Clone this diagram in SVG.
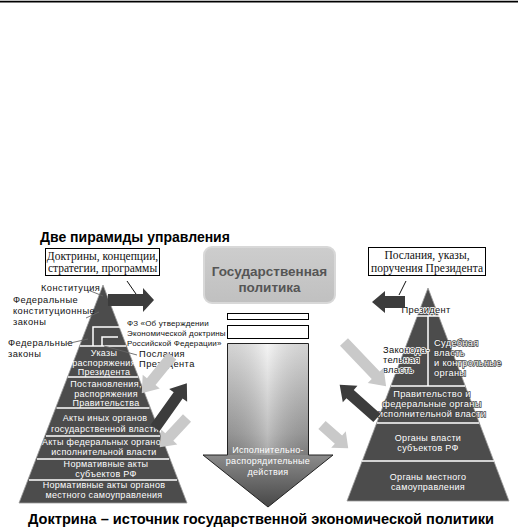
<svg xmlns="http://www.w3.org/2000/svg" width="518" height="528" viewBox="0 0 518 528">
<defs>
<style>
.t{font-family:"Liberation Sans",Arial,sans-serif;font-size:9.3px;letter-spacing:0.45px;fill:#111}
.f{font-family:"Liberation Sans",Arial,sans-serif;font-size:8px;letter-spacing:0.15px;fill:#111}
.w{font-family:"Liberation Sans",Arial,sans-serif;font-size:9px;letter-spacing:0.3px;fill:#fff;text-anchor:middle}
.h{font-family:"Liberation Sans",Arial,sans-serif;font-size:9.3px;letter-spacing:0.3px;fill:#111;stroke:#fff;stroke-width:1.6px;paint-order:stroke}
.hw{font-family:"Liberation Sans",Arial,sans-serif;font-size:9.3px;letter-spacing:0.3px;fill:#fff;stroke:#444;stroke-width:1.4px;paint-order:stroke}
.bx{font-family:"Liberation Serif","Times New Roman",serif;font-size:11.5px;fill:#111;text-anchor:middle}
.ttl{font-family:"Liberation Sans",Arial,sans-serif;font-weight:bold;font-size:14px;fill:#000}
.pyr{fill:#4c4c4c;stroke:#9a9a9a;stroke-width:0.8}
.sep{stroke:#fff;stroke-width:1.5;fill:none}
.ptr{stroke:#666;stroke-width:0.9;fill:none}
.la{fill:#c9c9c9}
.da{fill:#3c3c3c}
</style>
<linearGradient id="gArrow" x1="0" y1="343" x2="0" y2="507" gradientUnits="userSpaceOnUse">
<stop offset="0" stop-color="#f2f2f2"/>
<stop offset="0.55" stop-color="#a8a8a8"/>
<stop offset="1" stop-color="#474747"/>
</linearGradient>
<linearGradient id="gShine" x1="227" y1="0" x2="308" y2="0" gradientUnits="userSpaceOnUse">
<stop offset="0" stop-color="#000" stop-opacity="0.12"/>
<stop offset="0.5" stop-color="#fff" stop-opacity="0.25"/>
<stop offset="1" stop-color="#000" stop-opacity="0.12"/>
</linearGradient>
<linearGradient id="gBox" x1="0" y1="247" x2="0" y2="303" gradientUnits="userSpaceOnUse">
<stop offset="0" stop-color="#cdcdcd"/>
<stop offset="1" stop-color="#c0c0c0"/>
</linearGradient>
</defs>
<rect width="518" height="528" fill="#fff"/>
<line x1="0" y1="1.6" x2="518" y2="1.6" stroke="#000" stroke-width="1.6"/>

<text class="ttl" x="40" y="242">Две пирамиды управления</text>
<text class="ttl" x="28" y="524" font-size="15" textLength="466" lengthAdjust="spacingAndGlyphs">Доктрина – источник государственной экономической политики</text>

<g id="box-doctrines">
<rect x="45.5" y="248.5" width="114" height="27" fill="#fff" stroke="#000" stroke-width="1"/>
<text class="bx" x="102.5" y="260">Доктрины, концепции,</text>
<text class="bx" x="102.5" y="272">стратегии, программы</text>
</g>

<g id="box-president">
<rect x="368.5" y="247.5" width="117" height="28" fill="#fff" stroke="#000" stroke-width="1"/>
<text class="bx" x="427" y="259">Послания, указы,</text>
<text class="bx" x="427" y="272">поручения Президента</text>
</g>

<g id="state-policy">
<rect x="204" y="247" width="131" height="56" rx="8" fill="url(#gBox)" stroke="#d8d8d8" stroke-width="2"/>
<text x="269.5" y="276" text-anchor="middle" font-family="Liberation Sans, Arial, sans-serif" font-weight="bold" font-size="13.5" fill="#555">Государственная</text>
<text x="269.5" y="292" text-anchor="middle" font-family="Liberation Sans, Arial, sans-serif" font-weight="bold" font-size="13.5" fill="#555">политика</text>
</g>

<g id="left-pyramid">
<polygon class="pyr" points="103,285 19,503 187,503"/>
<line class="sep" x1="80" y1="346" x2="126" y2="346"/>
<line class="sep" x1="68" y1="377" x2="138" y2="377"/>
<line class="sep" x1="56.5" y1="408" x2="149.5" y2="408"/>
<line class="sep" x1="46" y1="436" x2="160" y2="436"/>
<line class="sep" x1="37" y1="459" x2="169" y2="459"/>
<line class="sep" x1="29" y1="480" x2="177" y2="480"/>
<polyline class="sep" points="125,327 93,327 93,346"/>
<polyline class="sep" points="118,337 102,337 102,346"/>
<text class="w" x="104" y="356">Указы</text>
<text class="w" x="104" y="366">распоряжения</text>
<text class="w" x="104" y="375">Президента</text>
<text class="w" x="106" y="387">Постановления,</text>
<text class="w" x="106" y="397">распоряжения</text>
<text class="w" x="106" y="406">Правительства</text>
<text class="w" x="105" y="421">Акты иных органов</text>
<text class="w" x="105" y="432">государственной власти</text>
<text class="w" x="104" y="445">Акты федеральных органов</text>
<text class="w" x="104" y="455">исполнительной власти</text>
<text class="w" x="106" y="467">Нормативные акты</text>
<text class="w" x="106" y="477">субъектов РФ</text>
<text class="w" x="104" y="488">Нормативные акты органов</text>
<text class="w" x="104" y="498">местного самоуправления</text>
</g>

<g id="left-labels">
<text class="t" x="41" y="291">Конституция</text>
<text class="t" x="13" y="303">Федеральные</text>
<text class="t" x="13" y="314">конституционные</text>
<text class="t" x="13" y="325">законы</text>
<text class="t" x="8" y="346">Федеральные</text>
<text class="t" x="8" y="357">законы</text>
<text class="f" x="127" y="326">ФЗ «Об утверждении</text>
<text class="f" x="127" y="336">Экономической доктрины</text>
<text class="f" x="127" y="346">Российской Федерации»</text>
<text class="t" x="139" y="357">Послания</text>
<text class="t" x="139" y="367">Президента</text>
</g>

<g id="right-pyramid">
<polygon class="pyr" points="428,288 347,501 509,501"/>
<line class="sep" x1="411" y1="316" x2="441" y2="316"/>
<line class="sep" x1="428" y1="316" x2="428" y2="386"/>
<line class="sep" x1="391" y1="386" x2="465" y2="386"/>
<line class="sep" x1="377" y1="423" x2="479" y2="423"/>
<line class="sep" x1="362" y1="461" x2="494" y2="461"/>
<text class="h" x="426" y="313" text-anchor="middle">Президент</text>
<text class="h" x="383" y="353">Законода-</text>
<text class="h" x="383" y="363">тельная</text>
<text class="h" x="383" y="373">власть</text>
<text class="hw" x="434" y="346">Судебная</text>
<text class="hw" x="434" y="356">власть</text>
<text class="hw" x="434" y="366">и контрольные</text>
<text class="hw" x="434" y="376">органы</text>
<text class="hw" x="432" y="397" text-anchor="middle">Правительство и</text>
<text class="hw" x="432" y="407" text-anchor="middle">федеральные органы</text>
<text class="hw" x="432" y="417" text-anchor="middle">исполнительной власти</text>
<text class="w" x="428" y="441" font-size="9.5">Органы власти</text>
<text class="w" x="428" y="451" font-size="9.5">субъектов РФ</text>
<text class="w" x="428" y="480" font-size="9.5">Органы местного</text>
<text class="w" x="428" y="490" font-size="9.5">самоуправления</text>
</g>

<g id="central-arrow">
<rect x="227.5" y="313.5" width="81" height="6" fill="#fff" stroke="#000" stroke-width="1"/>
<rect x="227.5" y="325.5" width="81" height="13" fill="#fff" stroke="#000" stroke-width="1"/>
<path d="M227.5,343.5 H308.5 V455 H333 L268,507 L203,455 H227.5 Z" fill="url(#gArrow)" stroke="#222" stroke-width="1"/>
<rect x="228" y="344" width="80" height="111" fill="url(#gShine)"/>
<text class="w" x="268" y="453" font-size="8.5">Исполнительно-</text>
<text class="w" x="268" y="464" font-size="8.5">распорядительные</text>
<text class="w" x="268" y="475" font-size="8.5">действия</text>
</g>

<g id="connectors">
<line class="ptr" x1="88" y1="290" x2="103" y2="296"/>
<line class="ptr" x1="86" y1="318" x2="99" y2="312"/>
<line class="ptr" x1="66" y1="344" x2="88" y2="339"/>
<line class="ptr" x1="137" y1="355" x2="104" y2="346" stroke="#999"/>
<line x1="127" y1="281" x2="136" y2="294" stroke="#111" stroke-width="1"/>
<line x1="406" y1="281" x2="399" y2="295" stroke="#111" stroke-width="1"/>
<polygon class="da" points="108,294 143,294 143,288 154,300 143,312 143,306 108,306"/>
<polygon class="da" points="405,296 385,296 385,291 372,302 385,313 385,308 405,308"/>
<g transform="translate(172,356) rotate(129)"><polygon class="la" points="0,-5.5 33,-5.5 33,-11 48,0 33,11 33,5.5 0,5.5"/></g>
<g transform="translate(155,428) rotate(-54.6)"><polygon class="da" points="0,-5.5 40,-5.5 40,-11 55,0 40,11 40,5.5 0,5.5"/></g>
<g transform="translate(187,418) rotate(133)"><polygon class="la" points="0,-5.5 26,-5.5 26,-11 40,0 26,11 26,5.5 0,5.5"/></g>
<g transform="translate(344,342) rotate(46.4)"><polygon class="la" points="0,-5.5 46,-5.5 46,-11 61,0 46,11 46,5.5 0,5.5"/></g>
<g transform="translate(377,418) rotate(-138.3)"><polygon class="da" points="0,-5.5 36,-5.5 36,-11 50,0 36,11 36,5.5 0,5.5"/></g>
<g transform="translate(322,425) rotate(41.5)"><polygon class="la" points="0,-5.5 22,-5.5 22,-11 35,0 22,11 22,5.5 0,5.5"/></g>
</g>
</svg>
